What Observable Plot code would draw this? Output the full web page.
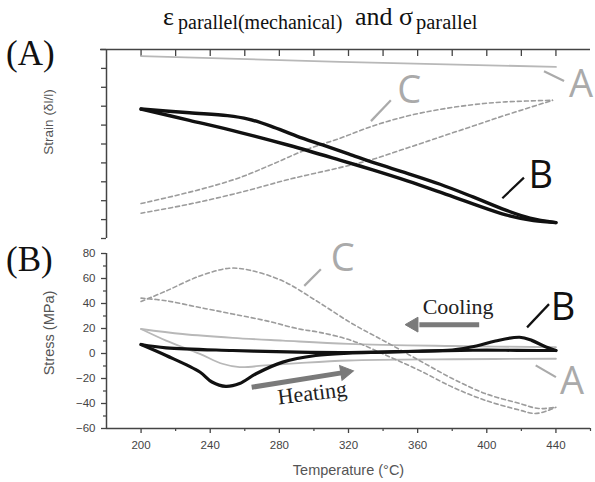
<!DOCTYPE html>
<html>
<head>
<meta charset="utf-8">
<script src="https://cdn.jsdelivr.net/npm/d3@7"></script>
<script src="https://cdn.jsdelivr.net/npm/@observablehq/plot@0.6"></script>
<style>
  html, body { margin: 0; padding: 0; background: #fff; }
  #wrap { position: relative; width: 595px; height: 482px; overflow: hidden; background: #fff; }
  #wrap svg { position: absolute; left: 0; }
  .serif { position: absolute; font-family: "Liberation Serif", "Times New Roman", serif; color: #111; white-space: nowrap; line-height: 1; }
</style>
</head>
<body>
<div id="wrap">
  <div class="serif" style="left:163px; top:4px; font-size:26px;">ε</div>
  <div class="serif" style="left:178px; top:12px; font-size:20px;">parallel(mechanical)</div>
  <div class="serif" style="left:355px; top:4px; font-size:26px;">and</div>
  <div class="serif" style="left:399px; top:4px; font-size:26px;">σ</div>
  <div class="serif" style="left:416px; top:12px; font-size:20.5px;">parallel</div>
  <div class="serif" style="left:6px; top:36px; font-size:35px;">(A)</div>
  <div class="serif" style="left:6px; top:242px; font-size:35px;">(B)</div>
</div>
<script>
// ---------- data (temperature °C, value) ----------
const tempTicks = [200, 240, 280, 320, 360, 400, 440];
const tempMinorTicks = [220, 260, 300, 340, 380, 420, 460];
const tempTopTicks = [200, 220, 240, 260, 280, 300, 320, 340, 360, 380, 400, 420, 440];
const strainTicks = [0, 1, 2, 3, 4, 5, 6, 7, 8, 9, 10];
const stressTicks = [-60, -40, -20, 0, 20, 40, 60, 80];
const stressMinorTicks = [-50, -30, -10, 10, 30, 50, 70];

// Panel A: strain (arbitrary units)
const strainA = [[200, 9.65], [315, 9.35], [440, 9.08]];
const strainBUpper = [[200, 6.85], [228, 6.65], [250, 6.5], [262, 6.32], [275, 5.95], [290, 5.42], [305, 4.95], [320, 4.48], [335, 4.0], [354, 3.45], [373, 2.87], [392, 2.2], [411, 1.5], [425, 1.08], [440, 0.84]];
const strainBLower = [[200, 6.85], [228, 6.25], [257, 5.62], [286, 4.92], [315, 4.15], [334, 3.63], [354, 3.05], [373, 2.45], [392, 1.83], [411, 1.25], [427, 0.95], [440, 0.84]];
const strainCUpper = [[200, 1.85], [219, 2.25], [238, 2.69], [257, 3.22], [276, 3.93], [296, 4.72], [315, 5.3], [334, 5.95], [354, 6.48], [373, 6.83], [392, 7.08], [411, 7.23], [438, 7.31]];
const strainCLower = [[200, 1.34], [228, 1.82], [257, 2.43], [286, 3.14], [315, 3.75], [334, 4.19], [354, 4.79], [373, 5.37], [392, 5.95], [411, 6.53], [438, 7.31]];

// Panel B: stress (MPa)
const stressAUpper = [[200, 19.6], [224, 15.6], [253, 12.5], [282, 10.3], [320, 7.7], [380, 6], [440, 5]];
const stressALower = [[200, 19.6], [214.5, 10.3], [234, -0.3], [247, -8.2], [257, -10.9], [272, -9.5], [291, -7.7], [320, -5.6], [380, -4.6], [440, -4.2]];
const stressBHeating = [[200, 7.2], [214.5, -1.6], [234, -14.8], [241, -22.8], [249, -26.3], [257, -24], [266.5, -16.2], [282, -6.9], [301, -1.6], [320, 0.3], [340, 1], [360, 1.8], [380, 2.8], [394, 6], [405, 10], [419, 13], [426, 10.5], [433, 6], [440, 2.4]];
const stressBCooling = [[440, 2.4], [430, 2.4], [411, 2.6], [392, 2.6], [360, 1.8], [320, 0.8], [291, 1.1], [253, 2.4], [214.5, 4.5], [200, 7.2]];
const stressCUpper = [[200, 41.6], [214.5, 50], [234, 62], [251, 68.2], [263, 66.6], [282, 58], [301, 42.5], [322, 24], [342, 9], [361, -5.6], [380, -20], [399, -32], [419, -40], [430, -44], [440, -43]];
const stressCLower = [[200, 44.3], [214.5, 42.2], [234, 36.8], [253, 31.6], [272, 26.3], [291.5, 19.6], [303, 17], [322, 10.3], [342, -1.6], [361, -13.5], [380, -26.8], [399, -37.4], [419, -45.3], [428, -48], [436, -45.3], [440, -43]];

// annotations (data coordinates)
const labelsA = [
  {text: "A", x: 454.5, y: 8.11, color: "#aaaaaa"},
  {text: "B", x: 431.2, y: 3.31, color: "#111111"},
  {text: "C", x: 355.1, y: 7.8, color: "#aaaaaa"}
];
const leadersA = [
  {x1: 433.1, y1: 8.85, x2: 444.7, y2: 8.33, color: "#aaaaaa"},
  {x1: 409, y1: 2.13, x2: 421.5, y2: 3.22, color: "#111111"},
  {x1: 333, y1: 6.21, x2: 344.5, y2: 7.31, color: "#aaaaaa"}
];
const labelsB = [
  {text: "A", x: 449.3, y: -22.3, color: "#aaaaaa"},
  {text: "B", x: 444.1, y: 36.8, color: "#111111"},
  {text: "C", x: 316.6, y: 75.6, color: "#aaaaaa"}
];
const leadersB = [
  {x1: 428.3, y1: -9.5, x2: 440, y2: -18.9, color: "#aaaaaa"},
  {x1: 423.3, y1: 20.9, x2: 436, y2: 39.5, color: "#111111"},
  {x1: 294.4, y1: 54.1, x2: 304, y2: 67.4, color: "#aaaaaa"}
];
const processLabels = [
  {text: "Cooling", x: 383.4, y: 37.4, rotate: 0},
  {text: "Heating", x: 299, y: -31.8, rotate: -7}
];
const arrowShafts = [
  {x1: 395.6, y1: 23.1, x2: 361, y2: 23.1},
  {x1: 264, y1: -27, x2: 316, y2: -15.5}
];
const arrowHeads = [
  {x: 357.7, y: 23.1, angle: -90},
  {x: 318, y: -15.0, angle: 80.7}
];

// ---------- styles ----------
const axisColor = "#444";
const colA = "#b8b8b8", colB = "#111", colC = "#9c9c9c", colArrow = "#7a7a7a";
const sans = "'Liberation Sans', Arial, sans-serif";
const serif = "'Liberation Serif', 'Times New Roman', serif";
const letterFont = "'Open Sans', 'Noto Sans', sans-serif";
const X = d => d[0], Y = d => d[1];

const chartA = Plot.plot({
  width: 595, height: 240,
  marginLeft: 106, marginRight: 5, marginTop: 49, marginBottom: 2,
  x: {domain: [180, 460]},
  y: {domain: [0, 10]},
  style: {background: "transparent", fontFamily: sans},
  marks: [
    Plot.axisX({anchor: "top", ticks: tempTopTicks, tickSize: -6, tickFormat: () => "", label: null, stroke: axisColor, strokeWidth: 1.3}),
    Plot.axisY({anchor: "left", ticks: strainTicks, tickSize: 5, tickFormat: () => "", label: null, stroke: axisColor, strokeWidth: 1.3}),
    Plot.ruleY([10], {stroke: axisColor, strokeWidth: 1.5, insetLeft: -6}),
    Plot.ruleX([180], {stroke: axisColor, strokeWidth: 1.5}),
    Plot.text(["Strain (δl/l)"], {frameAnchor: "left", textAnchor: "middle", lineAnchor: "middle", rotate: -90, dx: -58, dy: -22, fontSize: 13.5, fill: "#555", fontFamily: sans}),
    Plot.line(strainA, {x: X, y: Y, stroke: colA, strokeWidth: 1.8}),
    Plot.line(strainCUpper, {x: X, y: Y, stroke: colC, strokeWidth: 1.6, strokeDasharray: "4,3", curve: "catmull-rom"}),
    Plot.line(strainCLower, {x: X, y: Y, stroke: colC, strokeWidth: 1.6, strokeDasharray: "4,3", curve: "catmull-rom"}),
    Plot.line(strainBUpper, {x: X, y: Y, stroke: colB, strokeWidth: 3.4, curve: "catmull-rom"}),
    Plot.line(strainBLower, {x: X, y: Y, stroke: colB, strokeWidth: 3.4, curve: "catmull-rom"}),
    Plot.link(leadersA, {x1: "x1", y1: "y1", x2: "x2", y2: "y2", stroke: "color", strokeWidth: 2.2}),
    Plot.text(labelsA, {x: "x", y: "y", text: "text", fill: "color", fontSize: 38, fontFamily: letterFont, textAnchor: "middle", lineAnchor: "middle"})
  ]
});

const chartB = Plot.plot({
  width: 595, height: 257,
  marginLeft: 106, marginRight: 5, marginTop: 28, marginBottom: 54,
  x: {domain: [180, 460]},
  y: {domain: [-60, 80]},
  style: {background: "transparent", fontFamily: sans},
  marks: [
    Plot.axisY({ticks: stressTicks, tickSize: 5, tickPadding: 6, label: null, fontSize: 11.5, stroke: axisColor, fill: "#444", strokeWidth: 1.3}),
    Plot.axisY({ticks: stressMinorTicks, tickSize: 3, tickFormat: () => "", label: null, stroke: axisColor, strokeWidth: 1.2}),
    Plot.axisX({ticks: tempTicks, tickSize: 5, tickPadding: 7, label: null, fontSize: 11.5, stroke: axisColor, fill: "#444", strokeWidth: 1.3}),
    Plot.axisX({ticks: tempMinorTicks, tickSize: 3, tickFormat: () => "", label: null, stroke: axisColor, strokeWidth: 1.2}),
    Plot.ruleX([180], {stroke: axisColor, strokeWidth: 1.5}),
    Plot.ruleY([-60], {stroke: axisColor, strokeWidth: 1.5}),
    Plot.text(["Stress (MPa)"], {frameAnchor: "left", textAnchor: "middle", lineAnchor: "middle", rotate: -90, dx: -57, dy: -8, fontSize: 14.5, fill: "#555", fontFamily: sans}),
    Plot.text(["Temperature (°C)"], {frameAnchor: "bottom", textAnchor: "middle", lineAnchor: "middle", dy: 42, fontSize: 14.5, fill: "#555", fontFamily: sans}),
    Plot.line(stressAUpper, {x: X, y: Y, stroke: colA, strokeWidth: 1.8, curve: "catmull-rom"}),
    Plot.line(stressALower, {x: X, y: Y, stroke: colA, strokeWidth: 1.8, curve: "catmull-rom"}),
    Plot.line(stressCUpper, {x: X, y: Y, stroke: colC, strokeWidth: 1.6, strokeDasharray: "4,3", curve: "catmull-rom"}),
    Plot.line(stressCLower, {x: X, y: Y, stroke: colC, strokeWidth: 1.6, strokeDasharray: "4,3", curve: "catmull-rom"}),
    Plot.line(stressBCooling, {x: X, y: Y, stroke: colB, strokeWidth: 3.2, curve: "catmull-rom"}),
    Plot.line(stressBHeating, {x: X, y: Y, stroke: colB, strokeWidth: 3.2, curve: "catmull-rom"}),
    Plot.link(arrowShafts, {x1: "x1", y1: "y1", x2: "x2", y2: "y2", stroke: colArrow, strokeWidth: 5}),
    Plot.dot(arrowHeads, {x: "x", y: "y", rotate: "angle", symbol: "triangle", r: 5.5, fill: colArrow, stroke: colArrow, strokeWidth: 1}),
    Plot.text(processLabels, {x: "x", y: "y", text: "text", rotate: "rotate", fontSize: 22, fill: "#222", fontFamily: serif, textAnchor: "middle", lineAnchor: "middle"}),
    Plot.link(leadersB, {x1: "x1", y1: "y1", x2: "x2", y2: "y2", stroke: "color", strokeWidth: 2.2}),
    Plot.text(labelsB, {x: "x", y: "y", text: "text", fill: "color", fontSize: 38, fontFamily: letterFont, textAnchor: "middle", lineAnchor: "middle"})
  ]
});

chartA.style.top = "0px";
chartB.style.top = "225px";
const wrap = document.getElementById("wrap");
wrap.appendChild(chartA);
wrap.appendChild(chartB);
</script>
</body>
</html>
